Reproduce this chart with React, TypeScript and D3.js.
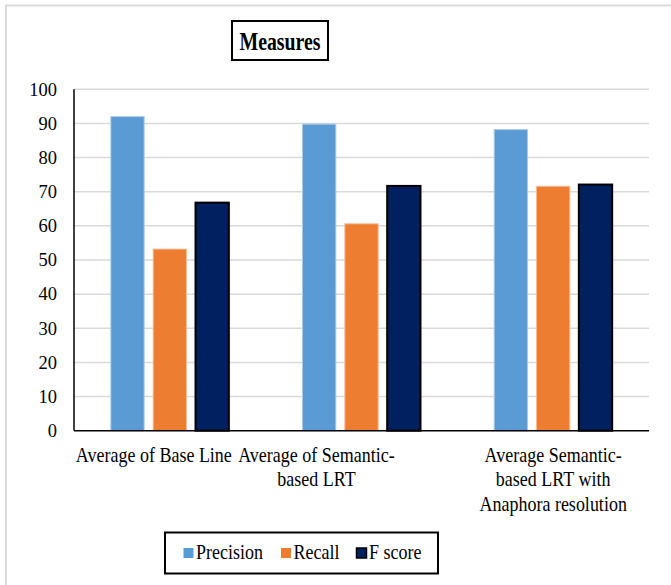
import React from "react";
import * as d3 from "d3";

const categories: string[][] = [
  ["Average of Base Line"],
  ["Average of Semantic-", "based LRT"],
  ["Average Semantic-", "based LRT with", "Anaphora resolution"],
];
const seriesNames = ["Precision", "Recall", "F score"];
const precision = [92, 89.8, 88.2];
const recall = [53.2, 60.6, 71.6];
const fscore = [66.8, 71.7, 72.1];
const yTicks = [0, 10, 20, 30, 40, 50, 60, 70, 80, 90, 100];

const colors = ["#5B9BD5", "#ED7D31", "#002060"];
const edgeColors = ["#A9CBEB", "#F6BC98", "#000000"];
const labelShift = [-16, -45, 0];
const FONT = "Liberation Serif, DejaVu Serif, serif";
const VSTRETCH = 1.12;

export default function App() {
  const W = 671, H = 585;
  const left = 74, right = 649, top = 89.3, bottom = 430.7;
  const values = [precision, recall, fscore];
  const idx = categories.map((_, i) => i);

  const x0 = d3.scaleBand<number>().domain(idx).range([left, right]).padding(0);
  const y = d3.scaleLinear().domain([0, 100]).range([bottom, top]);
  const groupSpan = 118;
  const x1 = d3.scaleBand<number>().domain([0, 1, 2]).range([0, groupSpan]).paddingInner(0.213).paddingOuter(0);

  const stretch = (by: number) => `translate(0,${by}) scale(1,${VSTRETCH}) translate(0,${-by})`;

  return (
    <svg width={W} height={H} style={{ position: "absolute", left: 0, top: 0, background: "#fff", fontFamily: FONT }}>
      <rect x={0} y={0} width={W} height={H} fill="#fff" />
      <rect x={6} y={5.5} width={W + 10} height={H + 10} fill="none" stroke="#d9d9d9" strokeWidth={2} />
      {/* Title */}
      <rect x={232} y={21} width={96} height={39} fill="#fff" stroke="#000" strokeWidth={2} />
      <text x={239.5} y={50} fontSize={25} fontWeight="bold" textLength={81} lengthAdjust="spacingAndGlyphs" style={{ fontFamily: FONT }}>Measures</text>
      {/* Gridlines */}
      {yTicks.filter(t => t > 0).map(t => (
        <line key={t} x1={left} x2={right} y1={y(t)} y2={y(t)} stroke="#d9d9d9" strokeWidth={1.5} />
      ))}
      {/* Y labels */}
      {yTicks.map(t => (
        <text key={t} x={57} y={y(t)} dy="0.34em" textAnchor="end" fontSize={18.5} style={{ fontFamily: FONT }}>{t}</text>
      ))}
      {/* Bars */}
      {idx.map(ci => {
        const gx = (x0(ci) as number) + x0.bandwidth() / 2 - groupSpan / 2;
        return values.map((vals, si) => {
          const isF = si === 2;
          const bx = gx + (x1(si) as number);
          const bw = x1.bandwidth();
          const yt = y(vals[ci]);
          return (
            <rect key={`${ci}-${si}`} x={bx} y={yt} width={bw} height={bottom - yt}
              fill={colors[si]} stroke={edgeColors[si]} strokeWidth={isF ? 2 : 1} />
          );
        });
      })}
      {/* Axes */}
      <line x1={left} x2={left} y1={top} y2={bottom} stroke="#000" strokeWidth={1.5} />
      <line x1={left} x2={right} y1={bottom} y2={bottom} stroke="#000" strokeWidth={1.5} />
      {/* Category labels */}
      {categories.map((lines, ci) => {
        const cx = (x0(ci) as number) + x0.bandwidth() / 2 + labelShift[ci];
        return lines.map((l, li) => {
          const by = 462 + li * 24.5;
          return (
            <text key={`${ci}-${li}`} x={cx} y={by} textAnchor="middle" fontSize={18}
              transform={stretch(by)} style={{ fontFamily: FONT }}>{l}</text>
          );
        });
      })}
      {/* Legend */}
      <rect x={165} y={532.5} width={273} height={41} fill="#fff" stroke="#000" strokeWidth={2} />
      {seriesNames.map((name, si) => {
        const lx = [183.5, 281, 356.5][si];
        return (
          <g key={name}>
            <rect x={lx} y={548} width={10} height={10} fill={colors[si]}
              stroke={si === 2 ? "#000" : "none"} strokeWidth={1.5} />
            <text x={lx + 12.5} y={559} fontSize={18} transform={stretch(559)} style={{ fontFamily: FONT }}>{name}</text>
          </g>
        );
      })}
    </svg>
  );
}
